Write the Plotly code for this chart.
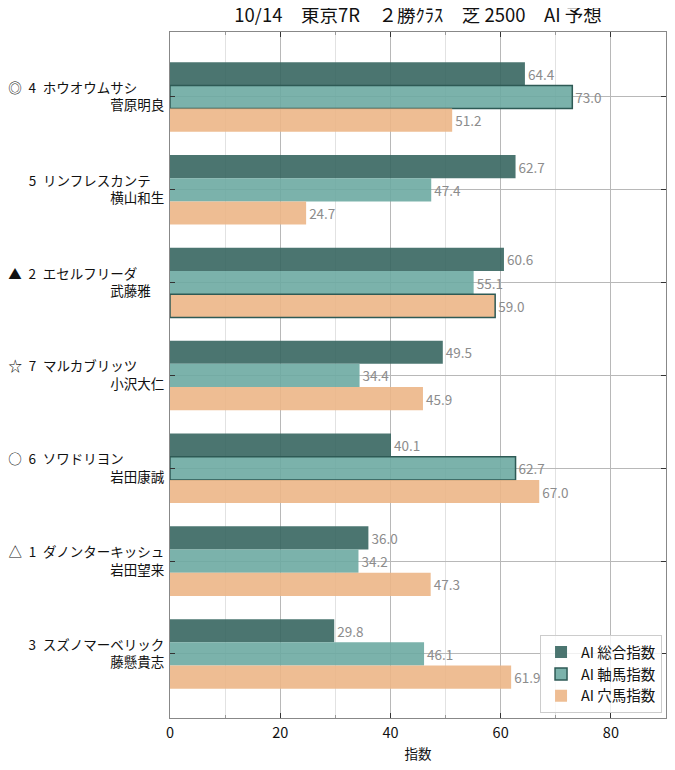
import plotly.graph_objects as go

FS = "\u3000"  # full-width space
SP = "\u2002"  # en space

marks = ["◎", "", "▲", "☆", "○", "△", ""]
numbers = [4, 5, 2, 7, 6, 1, 3]
horses = ["ホウオウムサシ", "リンフレスカンテ", "エセルフリーダ", "マルカブリッツ",
          "ソワドリヨン", "ダノンターキッシュ", "スズノマーベリック"]
jockeys = ["菅原明良", "横山和生", "武藤雅", "小沢大仁", "岩田康誠", "岩田望来", "藤懸貴志"]

sogo = [64.4, 62.7, 60.6, 49.5, 40.1, 36.0, 29.8]
jiku = [73.0, 47.4, 55.1, 34.4, 62.7, 34.2, 46.1]
ana = [51.2, 24.7, 59.0, 45.9, 67.0, 47.3, 61.9]

hl_sogo = [False, False, False, False, False, False, False]
hl_jiku = [True, False, False, False, True, False, False]
hl_ana = [False, False, True, False, False, False, False]

series_names = ["AI 総合指数", "AI 軸馬指数", "AI 穴馬指数"]
x_ticks = [0, 20, 40, 60, 80]

labels = []
for m, n, h, j in zip(marks, numbers, horses, jockeys):
    line1 = (m if m else FS) + SP + str(n) + SP + h + FS * (9 - len(h))
    line2 = j + FS * (4 - len(j))
    labels.append(line1 + "<br>" + line2)

ypos = list(range(len(horses)))

colors = ["rgba(55,102,96,0.9)", "rgba(109,170,162,0.9)", "rgba(236,182,135,0.9)"]
edge = "#2e5a55"

# page body has an 8px margin; size figure so the plot area lands where the reference has it
W, H = 667, 762
L, T, R, B = 162, 24, 9, 52

fig = go.Figure()
for name, vals, hl, col in zip(series_names, [sogo, jiku, ana],
                               [hl_sogo, hl_jiku, hl_ana], colors):
    fig.add_trace(go.Bar(
        y=ypos, x=vals, name=name, orientation="h",
        marker=dict(color=col,
                    line=dict(color=edge, width=[1.5 if h else 0 for h in hl])),
        text=vals, texttemplate="%{x:.1f}", textposition="outside",
        textfont=dict(color="#8c8c8c", size=13.5,
                      family="Noto Sans CJK JP, sans-serif"),
        constraintext="none", cliponaxis=False,
    ))

fig.update_layout(
    width=W, height=H,
    margin=dict(l=L, r=R, t=T, b=B),
    paper_bgcolor="white", plot_bgcolor="white",
    font=dict(family="Noto Sans CJK JP, sans-serif", size=13, color="#111"),
    title=dict(text="10/14" + FS + "東京7R" + FS + "２勝ｸﾗｽ" + FS + "芝 2500" + FS + "AI 予想",
               x=(L + (W - R)) / 2 / W, xanchor="center", y=1 - 1 / H, yanchor="top",
               font=dict(size=18.5, color="#111")),
    barmode="group", bargap=0.25, bargroupgap=0,
    showlegend=True,
    legend=dict(x=0.992, y=0.007, xanchor="right", yanchor="bottom",
                bgcolor="rgba(255,255,255,0.8)", bordercolor="#cccccc", borderwidth=1,
                traceorder="normal", font=dict(size=14.5)),
    xaxis=dict(range=[0, 90], tickvals=x_ticks, ticks="inside", ticklen=5,
               tickcolor="#333", showline=True, linecolor="#888", linewidth=1.2,
               mirror="ticks", showgrid=True, gridcolor="#b8b8b8", gridwidth=1,
               zeroline=False, automargin=False, ticklabelstandoff=1,
               minor=dict(dtick=10, ticks="inside", ticklen=3, tickcolor="#999",
                          showgrid=True, gridcolor="#e2e2e2", gridwidth=1),
               title=dict(text="指数", standoff=9, font=dict(size=13.5)),
               tickfont=dict(size=14.5)),
    yaxis=dict(range=[6.69, -0.7], tickvals=ypos, ticktext=labels,
               ticks="inside", ticklen=5, tickcolor="#333",
               showline=True, linecolor="#888", linewidth=1.2, mirror="ticks",
               showgrid=True, gridcolor="#b8b8b8", gridwidth=1, zeroline=False,
               automargin=False, ticklabelstandoff=2,
               tickfont=dict(size=13.5)),
)

fig.write_html("out.html")
